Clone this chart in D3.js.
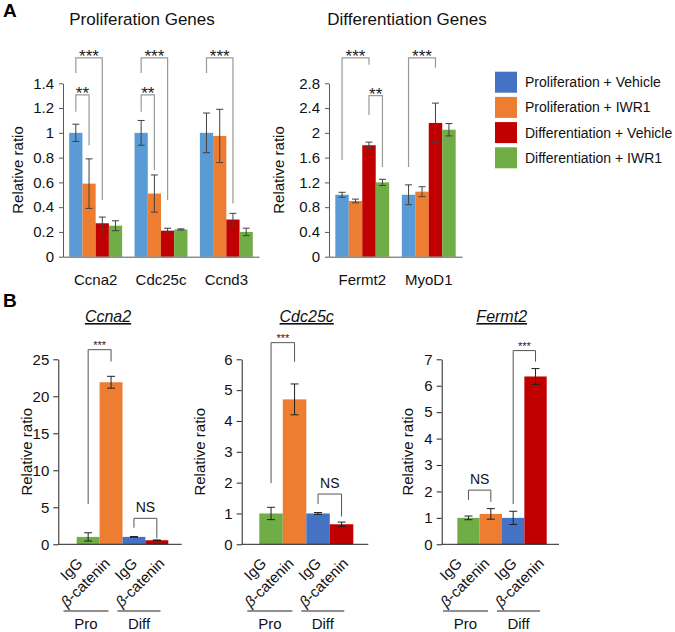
<!DOCTYPE html>
<html>
<head>
<meta charset="utf-8">
<script src="https://cdn.jsdelivr.net/npm/d3@7"></script>
<style>
  html, body { margin: 0; padding: 0; background: #fff; }
  svg { display: block; font-family: "Liberation Sans", Arial, sans-serif; }
</style>
</head>
<body>
<svg id="chart" width="675" height="632"></svg>
<script>
// ---------------- DATA ----------------
// Panel A
const conditions = ["Proliferation + Vehicle", "Proliferation + IWR1", "Differentiation + Vehicle", "Differentiation + IWR1"];
const prolifGenes = ["Ccna2", "Cdc25c", "Ccnd3"];
const prolifMeans = [[1.0, 0.59, 0.27, 0.25], [1.0, 0.51, 0.21, 0.22], [1.0, 0.975, 0.30, 0.20]];
const prolifErrs  = [[0.07, 0.20, 0.05, 0.04], [0.10, 0.15, 0.02, 0.005], [0.16, 0.215, 0.05, 0.03]];
const prolifTicks = [0, 0.2, 0.4, 0.6, 0.8, 1, 1.2, 1.4];
const prolifSig = [
  { gene: 0, from: 0, to: 2, top: 1.605, left: 1.484, right: 0.458, label: "***" },
  { gene: 0, from: 0, to: 1, top: 1.306, left: 1.171, right: 0.90, label: "**" },
  { gene: 1, from: 0, to: 2, top: 1.605, left: 1.484, right: 0.458, label: "***" },
  { gene: 1, from: 0, to: 1, top: 1.306, left: 1.171, right: 0.70, label: "**" },
  { gene: 2, from: 0, to: 2, top: 1.605, left: 1.484, right: 0.43, label: "***" }
];
const diffGenes = ["Fermt2", "MyoD1"];
const diffMeans = [[1.0, 0.90, 1.80, 1.20], [1.0, 1.05, 2.16, 2.05]];
const diffErrs  = [[0.04, 0.03, 0.05, 0.05], [0.16, 0.08, 0.32, 0.10]];
const diffTicks = [0, 0.4, 0.8, 1.2, 1.6, 2, 2.4, 2.8];
const diffSig = [
  { gene: 0, from: 0, to: 2, top: 3.21, left: 1.56, right: 3.10, label: "***" },
  { gene: 0, from: 2, to: 3, top: 2.60, left: 2.29, right: 1.45, label: "**" },
  { gene: 1, from: 0, to: 2, top: 3.21, left: 1.45, right: 3.05, label: "***" }
];

// Panel B
const chipSamples = ["IgG", "β-catenin", "IgG", "β-catenin"];
const chipGroups = ["Pro", "Diff"];
const ccna2Means = [1.0, 21.9, 1.0, 0.55];
const ccna2Errs  = [0.56, 0.8, 0.05, 0.04];
const ccna2Ticks = [0, 5, 10, 15, 20, 25];
const ccna2Sig = [
  { from: 0, to: 1, top: 26.3, left: 5.45, right: 24.7, label: "***" },
  { from: 2, to: 3, top: 3.51, left: 2.24, right: 0.81, label: "NS" }
];
const cdc25cMeans = [1.0, 4.7, 1.0, 0.65];
const cdc25cErrs  = [0.2, 0.5, 0.03, 0.07];
const cdc25cTicks = [0, 1, 2, 3, 4, 5, 6];
const cdc25cSig = [
  { from: 0, to: 1, top: 6.54, left: 1.98, right: 5.92, label: "***" },
  { from: 2, to: 3, top: 1.63, left: 1.31, right: 0.90, label: "NS" }
];
const fermt2Means = [1.0, 1.15, 1.0, 6.35];
const fermt2Errs  = [0.07, 0.2, 0.25, 0.3];
const fermt2Ticks = [0, 1, 2, 3, 4, 5, 6, 7];
const fermt2Sig = [
  { from: 0, to: 1, top: 2.05, left: 1.68, right: 1.61, label: "NS" },
  { from: 2, to: 3, top: 7.33, left: 1.52, right: 6.91, label: "***" }
];

// ---------------- STYLE ----------------
const colorsA = ["#5B9BD5", "#ED7D31", "#C00000", "#70AD47"];
const legendColors = ["#4472C4", "#ED7D31", "#C00000", "#70AD47"];
const chipColors = ["#70AD47", "#ED7D31", "#4472C4", "#C00000"];
const FONT = 15;

const svg = d3.select("#chart");

// Panel letters
svg.append("text").attr("x", 3).attr("y", 17).attr("font-size", 19).attr("font-weight", "bold").text("A");
svg.append("text").attr("x", 3).attr("y", 307).attr("font-size", 19).attr("font-weight", "bold").text("B");

function starBaseline(centerY, fs) { return centerY + 0.58 * fs; }

function drawPanelA(opts) {
  const g = svg.append("g");
  const x0 = d3.scaleBand().domain(opts.genes).range(opts.xRange).paddingInner(0.19).paddingOuter(0.095);
  const x1 = d3.scaleBand().domain(d3.range(4)).range([0, x0.bandwidth()]);
  const y = d3.scaleLinear().domain([0, opts.max]).range(opts.yRange);

  // title
  g.append("text").attr("x", opts.titleX).attr("y", 25).attr("text-anchor", "middle")
    .attr("font-size", 17).attr("fill", "#111").text(opts.title);

  // y axis
  const ya = g.append("g").attr("transform", `translate(${opts.xRange[0]},0)`)
    .call(d3.axisLeft(y).tickValues(opts.ticks).tickSize(4).tickSizeOuter(0).tickPadding(5).tickFormat(d => String(d)));
  ya.selectAll("path,line").attr("stroke", "#595959");
  ya.selectAll("text").attr("font-size", FONT).attr("fill", "#111").attr("font-family", "Liberation Sans, Arial, sans-serif");

  // y label
  g.append("text").attr("transform", `translate(${opts.yLabelX},${(opts.yRange[0] + opts.yRange[1]) / 2}) rotate(-90)`)
    .attr("text-anchor", "middle").attr("font-size", FONT).attr("fill", "#111").text("Relative ratio");

  // bars
  opts.genes.forEach((gene, gi) => {
    opts.means[gi].forEach((v, ci) => {
      const bx = x0(gene) + x1(ci);
      g.append("rect").attr("x", bx).attr("y", y(v)).attr("width", x1.bandwidth())
        .attr("height", y(0) - y(v)).attr("fill", colorsA[ci]);
      const e = opts.errs[gi][ci];
      const cx = bx + x1.bandwidth() / 2;
      const eg = g.append("g").attr("stroke", "#404040").attr("stroke-width", 1);
      eg.append("line").attr("x1", cx).attr("x2", cx).attr("y1", y(v + e)).attr("y2", y(v - e));
      eg.append("line").attr("x1", cx - 3.5).attr("x2", cx + 3.5).attr("y1", y(v + e)).attr("y2", y(v + e));
      eg.append("line").attr("x1", cx - 3.5).attr("x2", cx + 3.5).attr("y1", y(v - e)).attr("y2", y(v - e));
    });
  });

  // x axis
  const xa = g.append("g").attr("transform", `translate(0,${opts.yRange[0]})`)
    .call(d3.axisBottom(x0).tickSize(0).tickSizeOuter(0).tickPadding(18));
  xa.select("path").attr("stroke", "#595959");
  xa.selectAll("text").attr("font-size", FONT).attr("fill", "#111").attr("font-family", "Liberation Sans, Arial, sans-serif");

  // significance brackets
  opts.sig.forEach(s => {
    const gene = opts.genes[s.gene];
    const xa_ = x0(gene) + x1(s.from) + x1.bandwidth() / 2;
    const xb_ = x0(gene) + x1(s.to) + x1.bandwidth() / 2;
    g.append("path").attr("fill", "none").attr("stroke", "#9a9a9a").attr("stroke-width", 1.2)
      .attr("d", `M${xa_},${y(s.left)}V${y(s.top)}H${xb_}V${y(s.right)}`);
    g.append("text").attr("x", (xa_ + xb_) / 2).attr("y", starBaseline(y(s.top) - 6, 17))
      .attr("text-anchor", "middle").attr("font-size", 17).attr("fill", "#222").text(s.label);
  });
}

drawPanelA({
  genes: prolifGenes, means: prolifMeans, errs: prolifErrs, ticks: prolifTicks, sig: prolifSig,
  max: 1.4, xRange: [63, 259], yRange: [256.7, 83.3], title: "Proliferation Genes", titleX: 142, yLabelX: 23
});
drawPanelA({
  genes: diffGenes, means: diffMeans, errs: diffErrs, ticks: diffTicks, sig: diffSig,
  max: 2.8, xRange: [329, 462], yRange: [256.7, 83.3], title: "Differentiation Genes", titleX: 407, yLabelX: 284
});

// legend
const lg = svg.append("g");
conditions.forEach((c, i) => {
  const yy = 71.7 + i * 25.2;
  lg.append("rect").attr("x", 495).attr("y", yy).attr("width", 22).attr("height", 21).attr("fill", legendColors[i]);
  lg.append("text").attr("x", 525).attr("y", yy + 15.5).attr("font-size", 14).attr("fill", "#111").text(c);
});

// ---------------- PANEL B ----------------
function drawChip(opts) {
  const g = svg.append("g");
  const axisY = 544.3;
  const x = d3.scaleBand().domain(d3.range(4)).range(opts.barRange);
  const y = d3.scaleLinear().domain([0, opts.max]).range([axisY, 359.3]);
  const mid = (opts.barRange[0] + opts.barRange[1]) / 2;

  // title
  g.append("text").attr("x", opts.titleX).attr("y", 322).attr("text-anchor", "middle")
    .attr("font-size", 16).attr("font-style", "italic").attr("text-decoration", "underline")
    .attr("fill", "#111").text(opts.title);

  // bars
  opts.means.forEach((v, i) => {
    g.append("rect").attr("x", x(i)).attr("y", y(v)).attr("width", x.bandwidth())
      .attr("height", axisY - y(v)).attr("fill", chipColors[i]);
    const e = opts.errs[i];
    const cx = x(i) + x.bandwidth() / 2;
    const eg = g.append("g").attr("stroke", "#222").attr("stroke-width", 1);
    eg.append("line").attr("x1", cx).attr("x2", cx).attr("y1", y(v + e)).attr("y2", y(Math.max(0, v - e)));
    eg.append("line").attr("x1", cx - 4).attr("x2", cx + 4).attr("y1", y(v + e)).attr("y2", y(v + e));
    eg.append("line").attr("x1", cx - 4).attr("x2", cx + 4).attr("y1", y(v - e)).attr("y2", y(v - e));
  });

  // y axis
  const ya = g.append("g").attr("transform", `translate(${opts.axisX[0]},0)`)
    .call(d3.axisLeft(y).tickValues(opts.ticks).tickSize(5).tickSizeOuter(0).tickPadding(4).tickFormat(d => String(d)));
  ya.selectAll("path,line").attr("stroke", "#222");
  ya.selectAll("text").attr("font-size", FONT).attr("fill", "#111").attr("font-family", "Liberation Sans, Arial, sans-serif");
  g.append("line").attr("x1", opts.axisX[0]).attr("x2", opts.axisX[1]).attr("y1", axisY).attr("y2", axisY)
    .attr("stroke", "#222").attr("stroke-width", 1);

  // y label
  g.append("text").attr("transform", `translate(${opts.yLabelX},${(axisY + 359.3) / 2}) rotate(-90)`)
    .attr("text-anchor", "middle").attr("font-size", FONT).attr("fill", "#111").text("Relative ratio");

  // rotated x labels
  chipSamples.forEach((s, i) => {
    const lx = mid + (i - 1.5) * 27.3 + 2;
    const t = g.append("text").attr("transform", `translate(${lx},${axisY + 20}) rotate(-45)`)
      .attr("text-anchor", "end").attr("font-size", FONT).attr("fill", "#111");
    if (s.startsWith("β")) {
      t.append("tspan").attr("font-style", "italic").text("β");
      t.append("tspan").text(s.slice(1));
    } else {
      t.text(s);
    }
  });

  // group lines + labels
  const groupSpans = [[mid - 59, mid - 14], [mid - 5, mid + 38]];
  chipGroups.forEach((gr, i) => {
    const [a, b] = groupSpans[i];
    g.append("line").attr("x1", a).attr("x2", b).attr("y1", 611).attr("y2", 611).attr("stroke", "#222");
    g.append("text").attr("x", (a + b) / 2).attr("y", 629).attr("text-anchor", "middle")
      .attr("font-size", FONT).attr("fill", "#111").text(gr);
  });

  // significance
  opts.sig.forEach(s => {
    const xa_ = x(s.from) + x.bandwidth() / 2;
    const xb_ = x(s.to) + x.bandwidth() / 2;
    g.append("path").attr("fill", "none").attr("stroke", "#555").attr("stroke-width", 1)
      .attr("d", `M${xa_},${y(s.left)}V${y(s.top)}H${xb_}V${y(s.right)}`);
    if (s.label === "NS") {
      g.append("text").attr("x", (xa_ + xb_) / 2).attr("y", y(s.top) - 6).attr("text-anchor", "middle")
        .attr("font-size", 14).attr("fill", "#111").text(s.label);
    } else {
      g.append("text").attr("x", (xa_ + xb_) / 2).attr("y", starBaseline(y(s.top) - 7, 11)).attr("text-anchor", "middle")
        .attr("font-size", 11).attr("fill", "#222").text(s.label);
    }
  });
}

drawChip({ title: "Ccna2", titleX: 108, means: ccna2Means, errs: ccna2Errs, ticks: ccna2Ticks, sig: ccna2Sig,
  max: 25, barRange: [76.7, 168.3], axisX: [58.3, 181.7], yLabelX: 32 });
drawChip({ title: "Cdc25c", titleX: 306.7, means: cdc25cMeans, errs: cdc25cErrs, ticks: cdc25cTicks, sig: cdc25cSig,
  max: 6, barRange: [259.3, 353.3], axisX: [241.7, 368.3], yLabelX: 205 });
drawChip({ title: "Fermt2", titleX: 501.7, means: fermt2Means, errs: fermt2Errs, ticks: fermt2Ticks, sig: fermt2Sig,
  max: 7, barRange: [457.3, 546.7], axisX: [441.7, 559], yLabelX: 413 });
</script>
</body>
</html>
